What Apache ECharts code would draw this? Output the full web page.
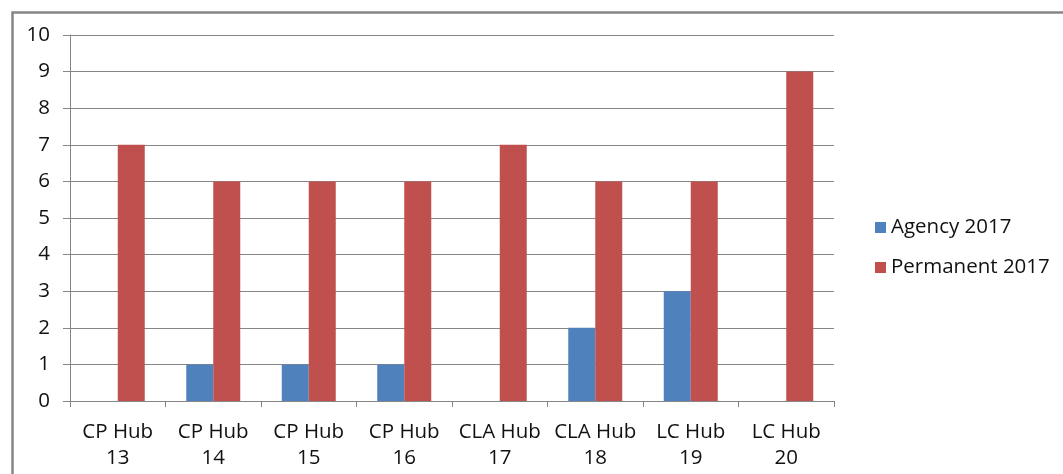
<!DOCTYPE html>
<html>
<head>
<meta charset="utf-8">
<script src="https://cdn.jsdelivr.net/npm/echarts@6/dist/echarts.min.js"></script>
<style>html,body{margin:0;padding:0;background:#fff;}#c{width:1063px;height:474px;}</style>
</head>
<body>
<div id="c"></div>
<script>
const categories = ["CP Hub 13","CP Hub 14","CP Hub 15","CP Hub 16","CLA Hub 17","CLA Hub 18","LC Hub 19","LC Hub 20"];
const agency2017 = [0,1,1,1,0,2,3,0];
const permanent2017 = [7,6,6,6,7,6,6,9];
const seriesNames = ["Agency 2017","Permanent 2017"];

const font = "'Open Sans', 'Liberation Sans', sans-serif";
const chart = echarts.init(document.getElementById('c'));
chart.setOption({
  animation: false,
  backgroundColor: '#fff',
  graphic: [{
    type: 'rect', left: 10, top: 10,
    shape: {width: 1070, height: 480},
    style: {fill: 'none', stroke: '#868686', lineWidth: 2.5}
  }],
  grid: {left: 70, right: 229, top: 35, bottom: 73},
  legend: {
    orient: 'vertical', left: 870, top: 212,
    itemWidth: 11, itemHeight: 11, itemGap: 19,
    icon: 'rect',
    textStyle: {fontFamily: font, fontSize: 20.5, color: '#111'},
    data: seriesNames
  },
  xAxis: {
    type: 'category', data: categories,
    axisLine: {lineStyle: {color: '#868686', width: 1}},
    axisTick: {show: true, length: 6, lineStyle: {color: '#868686'}},
    axisLabel: {
      interval: 0, margin: 18, lineHeight: 26,
      fontFamily: font, fontSize: 20.5, color: '#111',
      formatter: v => v.replace(/ (\d+)$/, '\n$1')
    }
  },
  yAxis: {
    type: 'value', min: 0, max: 10, interval: 1,
    axisLine: {show: true, lineStyle: {color: '#868686', width: 1}},
    axisTick: {show: true, length: 7, lineStyle: {color: '#868686'}},
    splitLine: {lineStyle: {color: '#868686', width: 1}},
    axisLabel: {margin: 20, fontFamily: font, fontSize: 20.5, color: '#111'}
  },
  series: [
    {name: seriesNames[0], type: 'bar', data: agency2017, barWidth: 27, barGap: '0%', itemStyle: {color: '#4F81BD'}},
    {name: seriesNames[1], type: 'bar', data: permanent2017, barWidth: 27, barGap: '0%', itemStyle: {color: '#C0504D'}}
  ]
});
</script>
</body>
</html>
